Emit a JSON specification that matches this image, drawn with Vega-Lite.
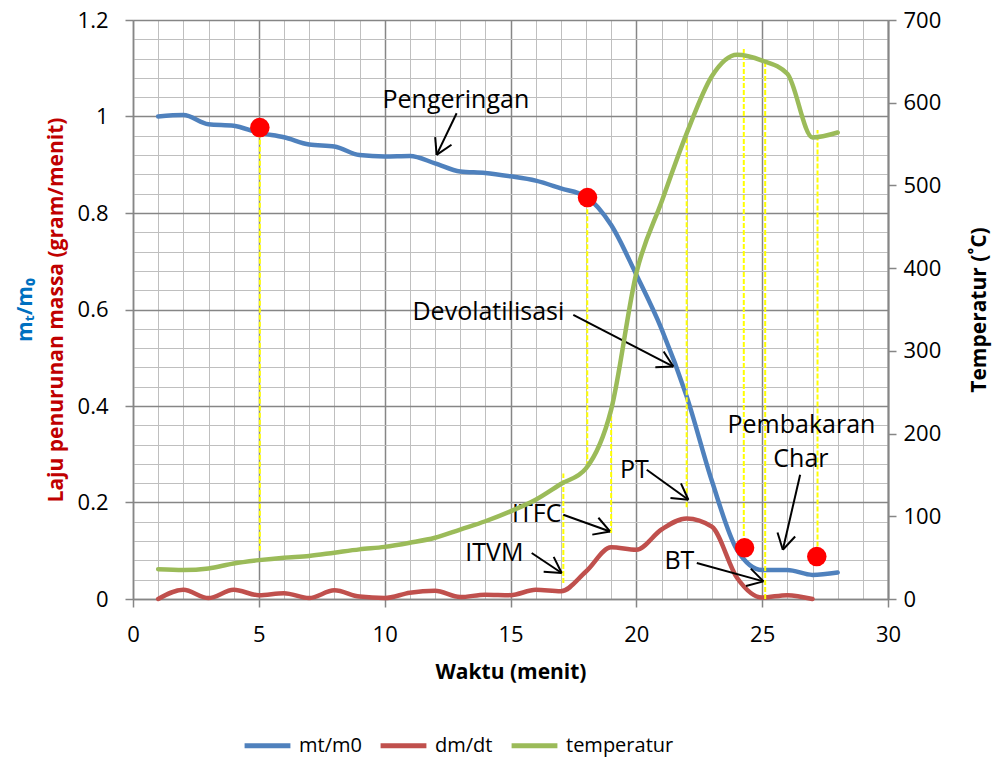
{
 "$schema": "https://vega.github.io/schema/vega-lite/v6.json",
 "width": 755,
 "height": 579,
 "autosize": {"type": "none"},
 "padding": {"left": 133, "top": 20, "right": 109, "bottom": 166},
 "background": "white",
 "config": {
  "font": "Open Sans",
  "view": {"stroke": null},
  "axis": {"labelFont": "Open Sans", "labelFontSize": 22, "labelColor": "#000", "titleFont": "Open Sans", "titleFontSize": 21, "titleFontWeight": "bold", "titleColor": "#000", "domainColor": "#868686", "tickColor": "#868686", "domainWidth": 1.5, "tickWidth": 1.5}
 },
 "datasets": {
  "mt": [
   {"t": 1, "v": 1.0}, {"t": 2, "v": 1.003}, {"t": 3, "v": 0.984}, {"t": 4, "v": 0.981}, {"t": 5, "v": 0.966},
   {"t": 6, "v": 0.957}, {"t": 7, "v": 0.942}, {"t": 8, "v": 0.938}, {"t": 9, "v": 0.92}, {"t": 10, "v": 0.917},
   {"t": 11, "v": 0.918}, {"t": 12, "v": 0.903}, {"t": 13, "v": 0.886}, {"t": 14, "v": 0.883}, {"t": 15, "v": 0.876},
   {"t": 16, "v": 0.867}, {"t": 17, "v": 0.851}, {"t": 18, "v": 0.834}, {"t": 19, "v": 0.775}, {"t": 20, "v": 0.672},
   {"t": 21, "v": 0.56}, {"t": 22, "v": 0.42}, {"t": 23, "v": 0.245}, {"t": 24, "v": 0.102}, {"t": 25, "v": 0.06},
   {"t": 26, "v": 0.06}, {"t": 27, "v": 0.05}, {"t": 28, "v": 0.055}
  ],
  "dm": [
   {"t": 1, "v": 0.0}, {"t": 2, "v": 0.019}, {"t": 3, "v": 0.002}, {"t": 4, "v": 0.019}, {"t": 5, "v": 0.008},
   {"t": 6, "v": 0.012}, {"t": 7, "v": 0.002}, {"t": 8, "v": 0.018}, {"t": 9, "v": 0.005}, {"t": 10, "v": 0.002},
   {"t": 11, "v": 0.013}, {"t": 12, "v": 0.017}, {"t": 13, "v": 0.004}, {"t": 14, "v": 0.009}, {"t": 15, "v": 0.008},
   {"t": 16, "v": 0.019}, {"t": 17, "v": 0.016}, {"t": 18, "v": 0.057}, {"t": 19, "v": 0.107}, {"t": 20, "v": 0.102},
   {"t": 21, "v": 0.144}, {"t": 22, "v": 0.167}, {"t": 23, "v": 0.15}, {"t": 24, "v": 0.044}, {"t": 25, "v": 0.003},
   {"t": 26, "v": 0.008}, {"t": 27, "v": 0.0}
  ],
  "temp": [
   {"t": 1, "v": 36}, {"t": 2, "v": 35}, {"t": 3, "v": 37}, {"t": 4, "v": 43}, {"t": 5, "v": 47},
   {"t": 6, "v": 50}, {"t": 7, "v": 52}, {"t": 8, "v": 56}, {"t": 9, "v": 60}, {"t": 10, "v": 63},
   {"t": 11, "v": 68}, {"t": 12, "v": 74}, {"t": 13, "v": 84}, {"t": 14, "v": 94}, {"t": 15, "v": 106},
   {"t": 16, "v": 120}, {"t": 17, "v": 139}, {"t": 18, "v": 158}, {"t": 19, "v": 229}, {"t": 20, "v": 394},
   {"t": 21, "v": 480}, {"t": 22, "v": 563}, {"t": 23, "v": 632}, {"t": 24, "v": 658}, {"t": 25, "v": 651},
   {"t": 26, "v": 635}, {"t": 27, "v": 558}, {"t": 28, "v": 564}
  ],
  "rules": [
   {"t": 5.04, "v": 0.1, "v2": 0.975}, {"t": 17.1, "v": 0.033, "v2": 0.26}, {"t": 18.05, "v": 0.275, "v2": 0.83},
   {"t": 19.0, "v": 0.137, "v2": 0.392}, {"t": 22.0, "v": 0.19, "v2": 0.972}, {"t": 24.27, "v": 0.116, "v2": 1.14},
   {"t": 25.12, "v": 0.0, "v2": 1.117}, {"t": 27.2, "v": 0.109, "v2": 0.972}
  ],
  "pts": [
   {"t": 5.04, "v": 0.977}, {"t": 18.06, "v": 0.832}, {"t": 24.3, "v": 0.106}, {"t": 27.17, "v": 0.088}
  ],
  "arrows": [
   {"t": 12.859, "v": 1.0067, "t2": 12.064, "v2": 0.9204}, {"t": 12.064, "v": 0.9204, "t2": 12.656, "v2": 0.9415}, {"t": 12.064, "v": 0.9204, "t2": 12.008, "v2": 0.9574},
   {"t": 17.495, "v": 0.5889, "t2": 21.471, "v2": 0.4818}, {"t": 21.471, "v": 0.4818, "t2": 21.085, "v2": 0.5131}, {"t": 21.471, "v": 0.4818, "t2": 20.755, "v2": 0.4802},
   {"t": 15.841, "v": 0.0953, "t2": 17.034, "v2": 0.0539}, {"t": 17.034, "v": 0.0539, "t2": 16.716, "v2": 0.0872}, {"t": 17.034, "v": 0.0539, "t2": 16.318, "v2": 0.0563},
   {"t": 17.097, "v": 0.1746, "t2": 18.954, "v2": 0.14}, {"t": 18.954, "v": 0.14, "t2": 18.493, "v2": 0.1684}, {"t": 18.954, "v": 0.14, "t2": 18.25, "v2": 0.1334},
   {"t": 20.413, "v": 0.2678, "t2": 22.068, "v2": 0.2057}, {"t": 22.068, "v": 0.2057, "t2": 21.773, "v2": 0.2397}, {"t": 22.068, "v": 0.2057, "t2": 21.356, "v2": 0.2094},
   {"t": 22.402, "v": 0.0746, "t2": 25.05, "v2": 0.0365}, {"t": 25.05, "v": 0.0365, "t2": 24.549, "v2": 0.063}, {"t": 25.05, "v": 0.0365, "t2": 24.358, "v2": 0.0271},
   {"t": 26.509, "v": 0.2575, "t2": 25.821, "v2": 0.1021}, {"t": 25.821, "v": 0.1021, "t2": 26.31, "v2": 0.1295}, {"t": 25.821, "v": 0.1021, "t2": 25.61, "v2": 0.1378}
  ],
  "labels": [
   {"t": 12.83, "v": 1.035, "label": "Pengeringan"},
   {"t": 14.12, "v": 0.594, "label": "Devolatilisasi"},
   {"t": 14.36, "v": 0.0953, "label": "ITVM"},
   {"t": 16.04, "v": 0.177, "label": "ITFC"},
   {"t": 19.92, "v": 0.268, "label": "PT"},
   {"t": 21.71, "v": 0.0788, "label": "BT"},
   {"t": 26.56, "v": 0.361, "label": "Pembakaran"},
   {"t": 26.54, "v": 0.2906, "label": "Char"}
  ]
 },
 "encoding": {
  "x": {"field": "t", "type": "quantitative", "scale": {"domain": [0, 30], "nice": false},
   "axis": {"values": [0,1,2,3,4,5,6,7,8,9,10,11,12,13,14,15,16,17,18,19,20,21,22,23,24,25,26,27,28,29,30],
    "title": "Waktu (menit)", "labelExpr": "datum.value % 5 == 0 ? datum.label : ''", "labelOverlap": false, "labelFlush": false,
    "labelPadding": 17, "tickSize": 8, "titlePadding": 16,
    "tickOpacity": {"condition": {"test": "datum.value % 5 == 0", "value": 1}, "value": 0},
    "grid": true,
    "gridColor": {"condition": {"test": "datum.value % 5 == 0", "value": "#868686"}, "value": "#BFBFBF"},
    "gridWidth": {"condition": {"test": "datum.value % 5 == 0", "value": 1.5}, "value": 1}}}
 },
 "layer": [
  {
   "data": {"name": "mt"},
   "mark": {"type": "line", "strokeWidth": 4.5, "interpolate": "monotone", "strokeCap": "round"},
   "encoding": {
    "y": {"field": "v", "type": "quantitative", "scale": {"domain": [0, 1.2], "nice": false},
     "axis": {"orient": "left", "labels": false, "ticks": false, "domain": false, "grid": false, "title": "mₜ/m₀", "titleColor": "#0070C0", "titlePadding": 98}},
    "color": {"datum": "mt/m0", "type": "nominal",
     "scale": {"domain": ["mt/m0", "dm/dt", "temperatur"], "range": ["#4F81BD", "#C0504D", "#9BBB59"]},
     "legend": {"title": null, "orient": "none", "legendX": 109, "legendY": 700, "direction": "horizontal", "labelFont": "Open Sans", "labelFontSize": 20, "labelColor": "#000", "symbolType": "stroke", "symbolSize": 2100, "symbolStrokeWidth": 5, "labelOffset": 6, "columnPadding": 8}}
   }
  },
  {
   "encoding": {
    "y": {"field": "v", "type": "quantitative", "scale": {"domain": [0, 1.2], "nice": false},
     "axis": {"orient": "left", "values": [0,0.04,0.08,0.12,0.16,0.2,0.24,0.28,0.32,0.36,0.4,0.44,0.48,0.52,0.56,0.6,0.64,0.68,0.72,0.76,0.8,0.84,0.88,0.92,0.96,1,1.04,1.08,1.12,1.16,1.2],
      "labelExpr": "abs(datum.value*5 - round(datum.value*5)) < 0.001 ? format(datum.value, '~g') : ''",
      "labelOverlap": false, "labelPadding": 17, "tickSize": 8,
      "tickOpacity": {"condition": {"test": "abs(datum.value*5 - round(datum.value*5)) < 0.001", "value": 1}, "value": 0},
      "grid": true,
      "gridColor": {"condition": {"test": "abs(datum.value*5 - round(datum.value*5)) < 0.001", "value": "#868686"}, "value": "#BFBFBF"},
      "gridWidth": {"condition": {"test": "abs(datum.value*5 - round(datum.value*5)) < 0.001", "value": 1.5}, "value": 1},
      "title": "Laju penurunan massa (gram/menit)", "titleColor": "#C00000", "titlePadding": 11}}
   },
   "layer": [
    {
     "data": {"name": "dm"},
     "mark": {"type": "line", "strokeWidth": 4.5, "interpolate": "monotone", "strokeCap": "round"},
     "encoding": {
      "color": {"datum": "dm/dt", "type": "nominal", "scale": {"domain": ["mt/m0", "dm/dt", "temperatur"], "range": ["#4F81BD", "#C0504D", "#9BBB59"]}}
     }
    },
    {
     "data": {"name": "rules"},
     "mark": {"type": "rule", "color": "#FFFF00", "strokeWidth": 2, "strokeDash": [5, 2]},
     "encoding": {"y2": {"field": "v2"}}
    },
    {
     "data": {"name": "arrows"},
     "mark": {"type": "rule", "color": "#000000", "strokeWidth": 2},
     "encoding": {"x2": {"field": "t2"}, "y2": {"field": "v2"}}
    },
    {
     "data": {"name": "labels"},
     "mark": {"type": "text", "font": "Open Sans", "fontSize": 25, "color": "#000000", "align": "center", "baseline": "middle"},
     "encoding": {"text": {"field": "label"}}
    },
    {
     "data": {"name": "pts"},
     "mark": {"type": "circle", "size": 380, "color": "#FF0000", "opacity": 1}
    }
   ]
  },
  {
   "data": {"name": "temp"},
   "mark": {"type": "line", "strokeWidth": 4.5, "interpolate": "monotone", "strokeCap": "round"},
   "encoding": {
    "y": {"field": "v", "type": "quantitative", "scale": {"domain": [0, 700], "nice": false},
     "axis": {"orient": "right", "values": [0,100,200,300,400,500,600,700], "format": "d", "grid": false, "tickSize": 8, "labelPadding": 7,
      "title": "Temperatur (˚C)", "titleAngle": 270, "titleBaseline": "top", "titlePadding": 28, "domainWidth": 2}},
    "color": {"datum": "temperatur", "type": "nominal", "scale": {"domain": ["mt/m0", "dm/dt", "temperatur"], "range": ["#4F81BD", "#C0504D", "#9BBB59"]}}
   }
  }
 ],
 "resolve": {"scale": {"y": "independent"}}
}
